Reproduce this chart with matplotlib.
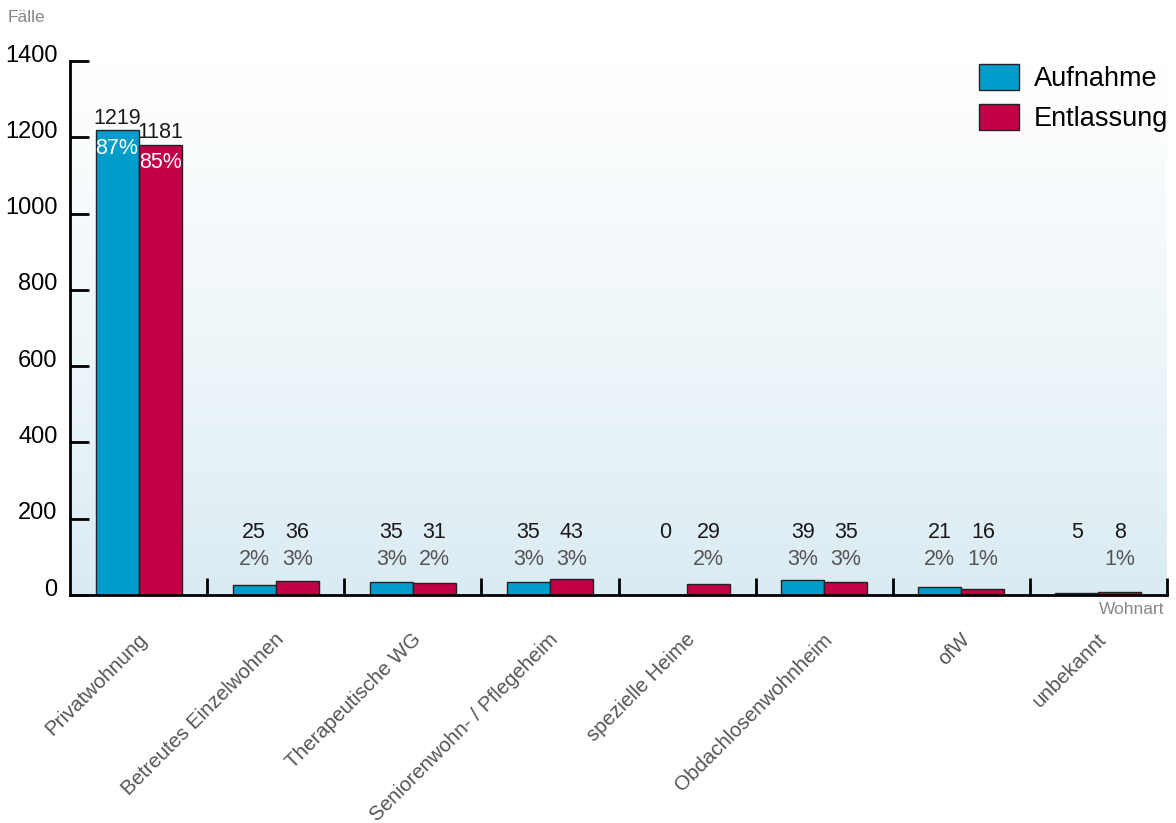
import numpy as np
import matplotlib
matplotlib.use("Agg")
from matplotlib import pyplot as plt
from matplotlib import transforms
from matplotlib.patches import Patch

plt.rcParams['font.family'] = ['Liberation Sans', 'DejaVu Sans']

# data
kategorien = ["Privatwohnung", "Betreutes Einzelwohnen", "Therapeutische WG",
              "Seniorenwohn- / Pflegeheim", "spezielle Heime", "Obdachlosenwohnheim",
              "ofW", "unbekannt"]
aufnahme = [1219, 25, 35, 35, 0, 39, 21, 5]
entlassung = [1181, 36, 31, 43, 29, 35, 16, 8]
pct_aufnahme = ["87%", "2%", "3%", "3%", "", "3%", "2%", ""]
pct_entlassung = ["85%", "3%", "2%", "3%", "2%", "3%", "1%", "1%"]

blau = "#009dcb"
rot = "#c20047"

fig = plt.figure(figsize=(11.76, 8.23), dpi=100)
ax = fig.add_axes([70 / 1176, 1 - 595 / 823, 1097 / 1176, 534 / 823])

# gradient background, light blue at bottom -> white at top
t = np.linspace(0, 1, 256).reshape(-1, 1, 1)
top = np.array([1.0, 1.0, 1.0])
bot = np.array([0.85, 0.92, 0.95])
img = bot + (top - bot) * t ** 0.8
ax.imshow(img, extent=[0, 1, 0, 1], transform=ax.transAxes,
          aspect='auto', zorder=0, origin='lower')

x = np.arange(len(kategorien))
w = 0.314
ax.bar(x - w / 2, aufnahme, w, color=blau, edgecolor="#222222", linewidth=1, zorder=2)
ax.bar(x + w / 2, entlassung, w, color=rot, edgecolor="#222222", linewidth=1, zorder=2)

ax.set_xlim(-0.5, 7.5)
ax.set_ylim(0, 1400)

# value labels
for i in range(len(kategorien)):
    for xs, v, p in [(x[i] - w / 2, aufnahme[i], pct_aufnahme[i]),
                     (x[i] + w / 2, entlassung[i], pct_entlassung[i])]:
        if v > 300:
            ax.annotate(str(v), (xs, v), xytext=(0, 1), textcoords="offset points",
                        ha="center", va="bottom", fontsize=15.5, color="#1a1a1a")
            ax.annotate(p, (xs, v), xytext=(0, -13), textcoords="offset points",
                        ha="center", va="center", fontsize=15.5, color="white")
        else:
            ax.text(xs, 165, str(v), ha="center", va="center", fontsize=15.5,
                    color="#1a1a1a")
            ax.text(xs, 92, p, ha="center", va="center", fontsize=15.5, color="#555555")

# axes styling
for s in ["top", "right"]:
    ax.spines[s].set_visible(False)
ax.spines["left"].set_linewidth(2)
ax.spines["bottom"].set_linewidth(2)
ax.set_yticks(range(0, 1401, 200))
ax.tick_params(axis="y", direction="in", length=14, width=2, labelsize=17, pad=9,
               colors="black")
ax.set_xticks(np.arange(0.5, 8, 1))
ax.tick_params(axis="x", direction="in", length=12, width=2, labelbottom=False)
off = transforms.ScaledTranslation(0, 8 / 100, fig.dpi_scale_trans)
for lab in ax.get_yticklabels():
    lab.set_transform(lab.get_transform() + off)

# category labels
for i, k in enumerate(kategorien):
    ax.annotate(k, (x[i], 0), xycoords=("data", "axes fraction"), xytext=(-1, -25),
                textcoords="offset points", rotation=45, rotation_mode="anchor",
                ha="right", va="top", fontsize=14.8, color="#555555")

fig.text(8 / 1176, 1 - 17 / 823, "Fälle", fontsize=12.5, color="#888888", va="center")
fig.text(1164 / 1176, 1 - 609 / 823, "Wohnart", fontsize=12.5, color="#888888",
         va="center", ha="right")

ax.legend(handles=[Patch(facecolor=blau, edgecolor="#222222", label="Aufnahme"),
                   Patch(facecolor=rot, edgecolor="#222222", label="Entlassung")],
          loc="upper right", bbox_to_anchor=(1.023, 1.04), frameon=False,
          fontsize=19.5, handlelength=1.45, handleheight=1.1, handletextpad=0.55,
          labelspacing=0.42)

fig.savefig("out.png", dpi=100)
